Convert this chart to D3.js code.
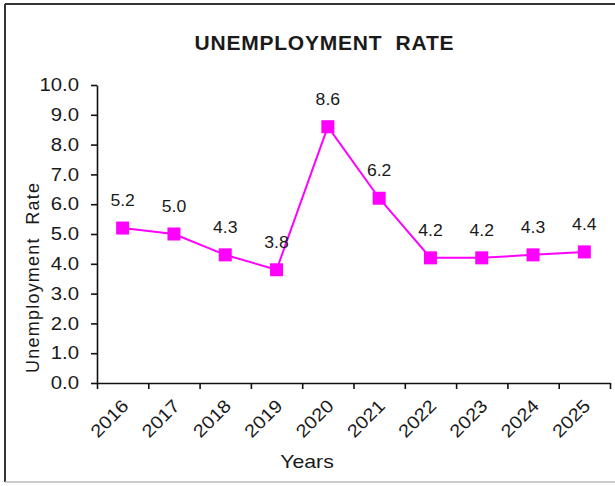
<!DOCTYPE html>
<html>
<head>
<meta charset="utf-8">
<script src="https://cdn.jsdelivr.net/npm/d3@7"></script>
<style>
  body { margin: 0; background: #fff; }
  text { font-family: "Liberation Sans", Arial, sans-serif; fill: #1a1a1a; }
  .domain, .tick line { stroke: #111; stroke-width: 1.6; }
</style>
</head>
<body>
<div class="rellenar"></div>
<script>
// datos de la grafica
var years = ["2016", "2017", "2018", "2019", "2020", "2021", "2022", "2023", "2024", "2025"];
var rates = [5.2, 5.0, 4.3, 3.8, 8.6, 6.2, 4.2, 4.2, 4.3, 4.4];
var yTicks = [0, 1, 2, 3, 4, 5, 6, 7, 8, 9, 10];

graficar();

// ensancha un poco los textos (la imagen original esta estirada)
function ensanchar(sel, f) {
    sel.each(function() {
        var largo = this.getComputedTextLength();
        d3.select(this)
            .attr("textLength", largo * f)
            .attr("lengthAdjust", "spacingAndGlyphs");
    });
}

function graficar() {
    var w = 615;
    var h = 486;

    var svg = d3.select('.rellenar')
        .append('svg')
        .attr("width", w)
        .attr("height", h);

    // marco
    svg.append("line").attr("x1", 5).attr("y1", 4).attr("x2", 615).attr("y2", 4)
        .attr("stroke", "#333").attr("stroke-width", 2);
    svg.append("line").attr("x1", 5).attr("y1", 4).attr("x2", 5).attr("y2", 482)
        .attr("stroke", "#333").attr("stroke-width", 2);
    svg.append("line").attr("x1", 5).attr("y1", 482).attr("x2", 615).attr("y2", 482)
        .attr("stroke", "#bbb").attr("stroke-width", 1.5);

    var x = d3.scaleBand()
        .domain(years)
        .range([97, 610])
        .padding(0);

    // escala para las marcas entre categorias
    var xEdges = d3.scaleLinear()
        .domain([0, years.length])
        .range([97, 610]);

    var y = d3.scaleLinear()
        .domain([0, 10])
        .range([383, 85]);

    // eje y
    var ejeY = svg.append("g")
        .attr("transform", "translate(97,0)")
        .call(d3.axisLeft(y)
            .tickValues(yTicks)
            .tickFormat(d3.format(".1f"))
            .tickSize(6)
            .tickSizeOuter(0)
            .tickPadding(12));
    ejeY.selectAll("text")
        .style("font-size", "18px")
        .style("fill", "#1a1a1a");
    ensanchar(ejeY.selectAll("text"), 1.13);

    // eje x
    svg.append("g")
        .attr("transform", "translate(0,383)")
        .call(d3.axisBottom(xEdges)
            .ticks(years.length)
            .tickFormat("")
            .tickSize(6)
            .tickSizeOuter(0));

    var anios = svg.selectAll("text.anio")
        .data(years)
        .enter()
        .append("text")
        .attr("class", "anio")
        .attr("text-anchor", "end")
        .style("font-size", "18px")
        .attr("transform", function(d) {
            return "translate(" + (x(d) + x.bandwidth() / 2 + 7) + ",407) rotate(-45)";
        })
        .text(function(d) {
            return d;
        });
    ensanchar(anios, 1.12);

    // linea
    var linea = d3.line()
        .x(function(d, i) { return x(years[i]) + x.bandwidth() / 2; })
        .y(function(d) { return y(d); });

    svg.append("path")
        .datum(rates)
        .attr("d", linea)
        .attr("fill", "none")
        .attr("stroke", "#FF00FF")
        .attr("stroke-width", 2);

    svg.selectAll("rect.punto")
        .data(rates)
        .enter()
        .append("rect")
        .attr("class", "punto")
        .attr("width", 13)
        .attr("height", 13)
        .attr("x", function(d, i) {
            return x(years[i]) + x.bandwidth() / 2 - 6.5;
        })
        .attr("y", function(d) {
            return y(d) - 6.5;
        })
        .attr("fill", "#FF00FF");

    // etiquetas de valores
    var valores = svg.selectAll("text.valor")
        .data(rates)
        .enter()
        .append("text")
        .attr("class", "valor")
        .attr("text-anchor", "middle")
        .style("font-size", "16px")
        .attr("x", function(d, i) {
            return x(years[i]) + x.bandwidth() / 2;
        })
        .attr("y", function(d) {
            return y(d) - 22;
        })
        .text(function(d) {
            return d.toFixed(1);
        });
    ensanchar(valores, 1.1);

    // titulos
    svg.append("text")
        .attr("x", 324)
        .attr("y", 50)
        .attr("text-anchor", "middle")
        .style("font-size", "21px")
        .style("font-weight", "bold")
        .style("white-space", "pre")
        .attr("textLength", 259)
        .text("UNEMPLOYMENT  RATE");

    svg.append("text")
        .attr("transform", "translate(39,278) rotate(-90)")
        .attr("text-anchor", "middle")
        .style("font-size", "18px")
        .style("white-space", "pre")
        .attr("textLength", 190)
        .text("Unemployment  Rate");

    var titX = svg.append("text")
        .attr("x", 307)
        .attr("y", 468)
        .attr("text-anchor", "middle")
        .style("font-size", "19px")
        .text("Years");
    ensanchar(titX, 1.12);
}
</script>
</body>
</html>
